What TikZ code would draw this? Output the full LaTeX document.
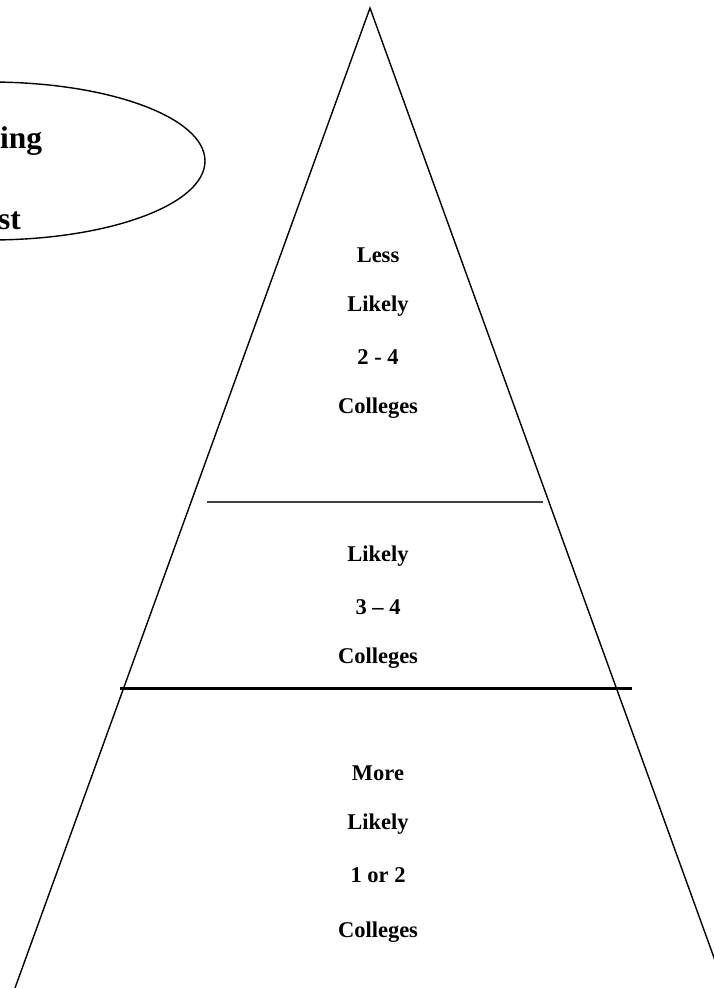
\documentclass[tikz,border=0pt]{standalone}
\usepackage{fontspec}
\setmainfont{Liberation Serif}
\tikzset{
  edge/.style={line width=1.4pt, black},
  lbl/.style={font=\fontsize{22.5}{26}\selectfont\bfseries, inner sep=0pt, anchor=center},
  biglbl/.style={font=\fontsize{31.5}{36}\selectfont\bfseries, inner sep=0pt, anchor=base west},
  thinrule/.style={line width=1.3pt, black!75},
  thickrule/.style={line width=3pt, black}
}
\begin{document}
\begin{tikzpicture}[x=1pt,y=-1pt]
\useasboundingbox (0,0) rectangle (714,988);
\clip (0,0) rectangle (714,988);
% triangle
\coordinate (apex) at (370,8);
\coordinate (bl) at (15,988);
\coordinate (br) at (725,988);
\draw[edge] (bl) -- (apex) -- (br);
% ellipse
\draw[edge] (-10,161) ellipse [x radius=215, y radius=79];
\node[biglbl] (ing) at (0,148) {ing};
\node[biglbl] (st) at (-2,229) {st};
% dividers
\coordinate (t1) at (207,502);
\coordinate (t2) at (543,502);
\draw[thinrule] (t1) -- (t2);
\coordinate (k1) at (120,688);
\coordinate (k2) at (632,688);
\draw[thickrule] (k1) -- (k2);
% top section
\node[lbl] (less) at (378,255) {Less};
\node[lbl] (likely1) at (378,306) {Likely};
\node[lbl] (range1) at (378,357) {2 - 4};
\node[lbl] (coll1) at (378,408) {Colleges};
% middle section
\node[lbl] (likely2) at (378,556) {Likely};
\node[lbl] (range2) at (378,607) {3 – 4};
\node[lbl] (coll2) at (378,658) {Colleges};
% bottom section
\node[lbl] (more) at (378,773) {More};
\node[lbl] (likely3) at (378,824) {Likely};
\node[lbl] (range3) at (378,875) {1 or 2};
\node[lbl] (coll3) at (378,932) {Colleges};
\end{tikzpicture}
\end{document}
